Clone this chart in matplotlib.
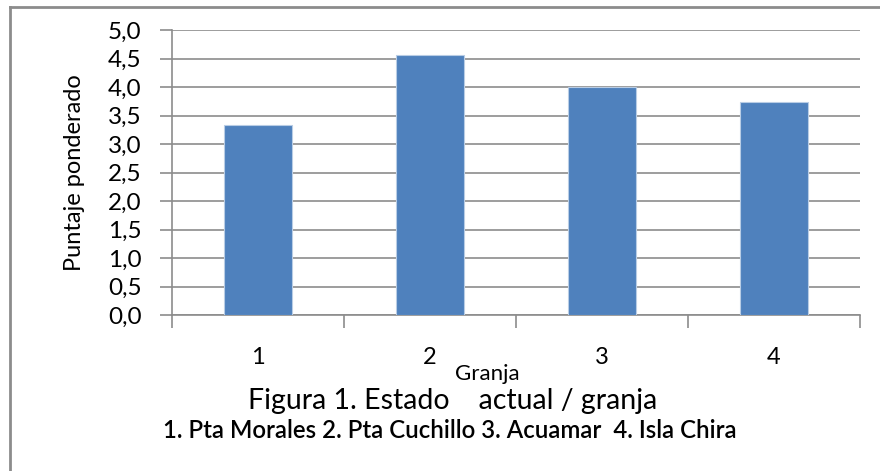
"""Bar chart: puntaje ponderado por granja (Figura 1)."""

import matplotlib

matplotlib.use("Agg")
import matplotlib.pyplot as plt  # noqa: E402
from matplotlib.lines import Line2D  # noqa: E402
import numpy as np  # noqa: E402

granjas = ["1", "2", "3", "4"]
puntaje = [3.33, 4.56, 4.00, 3.74]
yticks = [0.0, 0.5, 1.0, 1.5, 2.0, 2.5, 3.0, 3.5, 4.0, 4.5, 5.0]
ylabels = ["0,0", "0,5", "1,0", "1,5", "2,0", "2,5", "3,0", "3,5", "4,0", "4,5", "5,0"]

plt.rcParams["font.family"] = ["Lato", "DejaVu Sans"]

fig = plt.figure(figsize=(8.8, 4.71), dpi=100)
W, H = 880, 471
ax = fig.add_axes([172 / W, 1 - 315 / H, (860 - 172) / W, (315 - 30) / H])

x = np.arange(len(granjas))
ax.bar(x, puntaje, width=0.4, color="#4f81bd", edgecolor="#b9cde5", linewidth=0.8, zorder=3)

ax.set_xlim(-0.5, len(granjas) - 0.5)
ax.set_ylim(0, 5)
ax.set_yticks(yticks)
ax.set_yticklabels(ylabels)
ax.yaxis.grid(True, color="#8c8c8c", linewidth=1.2, zorder=0)

# category boundaries carry the x tick marks, labels sit in the middle
ax.set_xticks(np.arange(-0.5, len(granjas)), minor=False)
ax.set_xticklabels([])
ax.set_xticks(x, minor=True)
ax.set_xticklabels(granjas, minor=True)
ax.tick_params(axis="x", which="major", length=9, width=1.2, color="#8c8c8c")
ax.tick_params(axis="x", which="minor", length=0, pad=23, labelsize=17)
ax.tick_params(axis="y", length=9, width=1.2, color="#8c8c8c", labelsize=17.5, pad=13)

for side in ("top", "right"):
    ax.spines[side].set_visible(False)
for side in ("left", "bottom"):
    ax.spines[side].set_color("#8c8c8c")
    ax.spines[side].set_linewidth(1.2)

ax.set_ylabel("Puntaje ponderado", fontsize=17)
ax.yaxis.set_label_coords(-0.126, 0.5)

fig.text(487 / W, 1 - 374 / H, "Granja", ha="center", va="center", fontsize=16)
fig.text(453 / W, 1 - 401 / H, "Figura 1. Estado    actual / granja",
         ha="center", va="center", fontsize=20.5)
fig.text(450 / W, 1 - 431 / H, "1. Pta Morales 2. Pta Cuchillo 3. Acuamar  4. Isla Chira",
         ha="center", va="center", fontsize=17.3, fontweight="semibold")

# outer chart frame (only left and top edges show)
fig.add_artist(Line2D([10 / W, 10 / W], [0, 1 - 7 / H], transform=fig.transFigure,
                      color="#8c8c8c", linewidth=2))
fig.add_artist(Line2D([10 / W, 1], [1 - 7 / H, 1 - 7 / H], transform=fig.transFigure,
                      color="#8c8c8c", linewidth=2))

fig.savefig("out.png", dpi=100)
plt.close(fig)
